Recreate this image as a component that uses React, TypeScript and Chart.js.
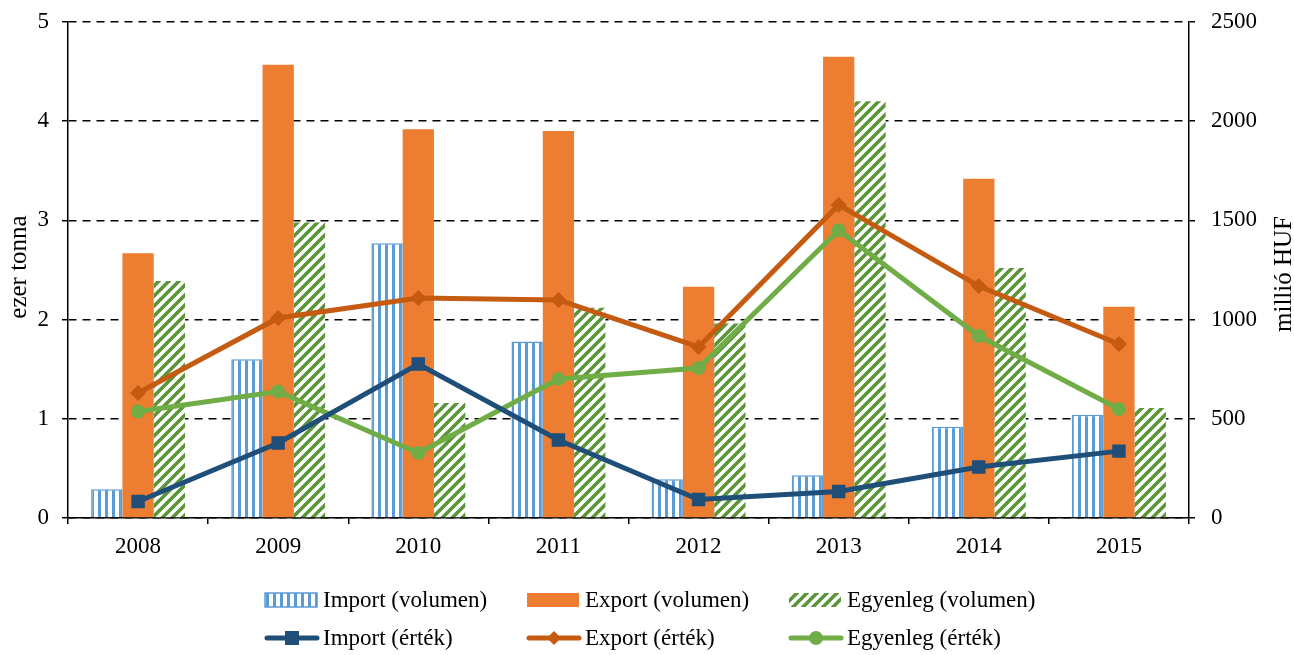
import React, { useEffect, useRef } from 'react';
import { Chart, registerables } from 'chart.js';

Chart.register(...registerables);

// ---- data ----
const years = ['2008', '2009', '2010', '2011', '2012', '2013', '2014', '2015'];
const importVolume = [0.29, 1.6, 2.77, 1.78, 0.39, 0.43, 0.92, 1.04];
const exportVolume = [2.67, 4.57, 3.92, 3.9, 2.33, 4.65, 3.42, 2.13];
const balanceVolume = [2.39, 2.98, 1.16, 2.12, 1.96, 4.2, 2.52, 1.11];
const importValue = [83, 378, 776, 393, 93, 134, 257, 337];
const exportValue = [630, 1008, 1109, 1099, 862, 1578, 1169, 877];
const balanceValue = [537, 637, 328, 701, 756, 1450, 917, 549];

const seriesLabels = [
  'Import (volumen)',
  'Export (volumen)',
  'Egyenleg (volumen)',
  'Import (érték)',
  'Export (érték)',
  'Egyenleg (érték)',
];
const leftTitle = 'ezer tonna';
const rightTitle = 'millió HUF';

// ---- styles ----
const FONT = '"Liberation Serif", "Times New Roman", serif';
const BLUE = '#5B9BD5';
const ORANGE = '#ED7D31';
const HATCH_GREEN = '#5A9639';
const LINE_BLUE = '#1F4E79';
const LINE_ORANGE = '#C55A11';
const LINE_GREEN = '#70AD47';

const W = 1294;
const H = 655;

function makeStripePattern(ctx: CanvasRenderingContext2D): CanvasPattern | string {
  const c = document.createElement('canvas');
  c.width = 7;
  c.height = 7;
  const g = c.getContext('2d');
  if (!g) return BLUE;
  g.fillStyle = '#ffffff';
  g.fillRect(0, 0, 7, 7);
  g.fillStyle = BLUE;
  g.fillRect(0, 0, 3, 7);
  return ctx.createPattern(c, 'repeat') || BLUE;
}

function makeHatchPattern(ctx: CanvasRenderingContext2D): CanvasPattern | string {
  const s = 10;
  const c = document.createElement('canvas');
  c.width = s;
  c.height = s;
  const g = c.getContext('2d');
  if (!g) return HATCH_GREEN;
  g.fillStyle = '#ffffff';
  g.fillRect(0, 0, s, s);
  g.strokeStyle = HATCH_GREEN;
  g.lineWidth = 3.6;
  g.beginPath();
  g.moveTo(-s / 2, s / 2);
  g.lineTo(s / 2, -s / 2);
  g.moveTo(0, s);
  g.lineTo(s, 0);
  g.moveTo(s / 2, s * 1.5);
  g.lineTo(s * 1.5, s / 2);
  g.stroke();
  return ctx.createPattern(c, 'repeat') || HATCH_GREEN;
}

export default function App() {
  const canvasRef = useRef<HTMLCanvasElement | null>(null);

  useEffect(() => {
    document.body.style.margin = '0';
    document.body.style.overflow = 'hidden';
    const canvas = canvasRef.current;
    if (!canvas) return;
    const ctx = canvas.getContext('2d');
    if (!ctx) return;

    const stripe = makeStripePattern(ctx);
    const hatch = makeHatchPattern(ctx);

    const legendPlugin = {
      id: 'customLegendAndTitles',
      afterDraw(chart: any) {
        const c: CanvasRenderingContext2D = chart.ctx;
        c.save();
        // axis titles (both read bottom-to-top)
        c.fillStyle = '#000';
        c.font = `25px ${FONT}`;
        c.textAlign = 'center';
        c.textBaseline = 'middle';
        c.save();
        c.translate(19, 267);
        c.rotate(-Math.PI / 2);
        c.fillText(leftTitle, 0, 0);
        c.restore();
        c.save();
        c.translate(1284, 274);
        c.rotate(-Math.PI / 2);
        c.fillText(rightTitle, 0, 0);
        c.restore();

        // legend
        const cols = [265, 527, 789];
        const swW = 52;
        const textX = [323, 585, 847];
        const rows = [600, 638];
        c.font = `23px ${FONT}`;
        c.textAlign = 'left';
        c.textBaseline = 'middle';

        // row 1: bar swatches
        const fills: (CanvasPattern | string)[] = [stripe, ORANGE, hatch];
        for (let i = 0; i < 3; i++) {
          const x = cols[i];
          const y = rows[0] - 7;
          c.fillStyle = fills[i] as any;
          c.fillRect(x, y, swW, 14);
          if (i === 0) {
            c.strokeStyle = BLUE;
            c.lineWidth = 1.5;
            c.strokeRect(x, y, swW, 14);
          }
          c.fillStyle = '#000';
          c.fillText(seriesLabels[i], textX[i], rows[0] + 1);
        }
        // row 2: line swatches
        const lineCols = [LINE_BLUE, LINE_ORANGE, LINE_GREEN];
        for (let i = 0; i < 3; i++) {
          const x = cols[i];
          const y = rows[1];
          c.strokeStyle = lineCols[i];
          c.lineWidth = 5;
          c.lineCap = 'round';
          c.beginPath();
          c.moveTo(x + 2, y);
          c.lineTo(x + swW, y);
          c.stroke();
          const mx = x + swW / 2 + 1;
          c.fillStyle = lineCols[i];
          if (i === 0) {
            c.fillRect(mx - 7, y - 7, 14, 14);
          } else if (i === 1) {
            c.beginPath();
            c.moveTo(mx - 7, y);
            c.lineTo(mx, y - 7);
            c.lineTo(mx + 7, y);
            c.lineTo(mx, y + 7);
            c.closePath();
            c.fill();
          } else {
            c.beginPath();
            c.arc(mx, y, 7, 0, Math.PI * 2);
            c.fill();
          }
          c.fillStyle = '#000';
          c.fillText(seriesLabels[3 + i], textX[i], y + 1);
        }
        c.restore();
      },
    };

    const tickFont = { family: FONT, size: 23 };

    const chart = new Chart(ctx, {
      type: 'bar',
      data: {
        labels: years,
        datasets: [
          {
            type: 'bar',
            label: seriesLabels[0],
            data: importVolume,
            backgroundColor: stripe as any,
            borderColor: BLUE,
            borderWidth: 1.5,
            yAxisID: 'y',
            order: 2,
          },
          {
            type: 'bar',
            label: seriesLabels[1],
            data: exportVolume,
            backgroundColor: ORANGE,
            borderWidth: 0,
            yAxisID: 'y',
            order: 2,
          },
          {
            type: 'bar',
            label: seriesLabels[2],
            data: balanceVolume,
            backgroundColor: hatch as any,
            borderWidth: 0,
            yAxisID: 'y',
            order: 2,
          },
          {
            type: 'line',
            label: seriesLabels[3],
            data: importValue,
            borderColor: LINE_BLUE,
            backgroundColor: LINE_BLUE,
            borderWidth: 5,
            pointStyle: 'rect',
            pointRadius: 9.5,
            pointBorderWidth: 0,
            tension: 0,
            yAxisID: 'y1',
            order: 0,
          },
          {
            type: 'line',
            label: seriesLabels[4],
            data: exportValue,
            borderColor: LINE_ORANGE,
            backgroundColor: LINE_ORANGE,
            borderWidth: 5,
            pointStyle: 'rectRot',
            pointRadius: 8,
            pointBorderWidth: 0,
            tension: 0,
            yAxisID: 'y1',
            order: 1,
          },
          {
            type: 'line',
            label: seriesLabels[5],
            data: balanceValue,
            borderColor: LINE_GREEN,
            backgroundColor: LINE_GREEN,
            borderWidth: 5,
            pointStyle: 'circle',
            pointRadius: 7,
            pointBorderWidth: 0,
            tension: 0,
            yAxisID: 'y1',
            order: 0.5,
          },
        ] as any,
      },
      options: {
        responsive: false,
        animation: false,
        devicePixelRatio: window.devicePixelRatio || 1,
        layout: { padding: { top: 22, left: 0, right: 0, bottom: 0 } },
        datasets: {
          bar: { categoryPercentage: 0.67, barPercentage: 1 },
        },
        plugins: {
          legend: { display: false },
          tooltip: { enabled: false },
        },
        scales: {
          x: {
            type: 'category',
            offset: true,
            grid: {
              offset: true,
              drawOnChartArea: false,
              drawTicks: true,
              tickLength: 6,
              color: '#000',
              lineWidth: 1.5,
            },
            border: { display: true, color: '#000', width: 1.5 },
            ticks: { color: '#000', font: tickFont, padding: 9 },
            afterFit: (scale: any) => {
              scale.height = 137;
              scale.paddingLeft = 0;
              scale.paddingRight = 0;
            },
          },
          y: {
            type: 'linear',
            position: 'left',
            min: 0,
            max: 5,
            ticks: { stepSize: 1, color: '#000', font: tickFont, padding: 13 },
            grid: {
              color: '#000',
              lineWidth: 1.4,
              drawTicks: true,
              tickLength: 6,
              tickBorderDash: [],
              tickColor: '#000',
              tickWidth: 1.5,
            },
            border: { display: true, color: '#000', width: 1.5, dash: [8, 6] },
            afterFit: (scale: any) => {
              scale.width = 68;
              scale.paddingTop = 0;
              scale.paddingBottom = 0;
            },
          },
          y1: {
            type: 'linear',
            position: 'right',
            min: 0,
            max: 2500,
            ticks: {
              stepSize: 500,
              color: '#000',
              font: tickFont,
              padding: 16,
              callback: (v: any) => String(v),
            },
            grid: {
              drawOnChartArea: false,
              drawTicks: true,
              tickLength: 6,
              color: '#000',
              lineWidth: 1.5,
            },
            border: { display: true, color: '#000', width: 1.5 },
            afterFit: (scale: any) => {
              scale.width = 105;
              scale.paddingTop = 0;
              scale.paddingBottom = 0;
            },
          },
        },
      } as any,
      plugins: [legendPlugin],
    });

    return () => {
      chart.destroy();
    };
  }, []);

  return (
    <div style={{ width: W, height: H, position: 'relative', background: '#fff' }}>
      <canvas ref={canvasRef} width={W} height={H} style={{ width: W, height: H, display: 'block' }} />
    </div>
  );
}
